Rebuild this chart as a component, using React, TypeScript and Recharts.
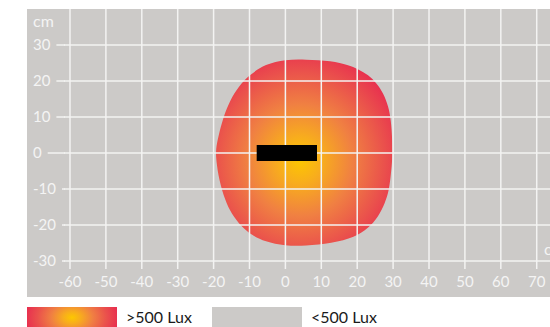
import React from "react";
import { ScatterChart, Scatter, XAxis, YAxis, ReferenceLine, ReferenceArea } from "recharts";

const X_TICKS = [-60, -50, -40, -30, -20, -10, 0, 10, 20, 30, 40, 50, 60, 70];
const Y_TICKS = [-30, -20, -10, 0, 10, 20, 30];
const X_DOMAIN = [-61.67, 73.7];
const Y_DOMAIN = [-32.22, 40];
const UNIT = "cm";

// outline of the >500 lux zone, clockwise from the top (cm)
const ZONE_X = [0, 5.5, 12.9, 17.5, 20.3, 23.1, 25.4, 27.3, 28.7, 29.4, 29.8, 29.8, 29.4, 28.9, 27.7, 25.9, 23.1, 19.4, 12.9, 5.5, -0.1, -5.7, -9.4, -12.2, -15.1, -16.8, -18.5, -19.3, -19.4, -18.7, -17.3, -15.4, -13.1, -10, -5.6];
const ZONE_Y = [26.0, 26.0, 25.6, 24.4, 23.3, 21.7, 19.4, 16.6, 12.9, 9.2, 3.6, -1.9, -5.6, -10.3, -14, -17.7, -20.9, -23.4, -25.1, -25.8, -25.8, -24.6, -22.8, -20.5, -16.8, -13.1, -7.5, -1.9, 1, 4.5, 10, 14.7, 18.4, 21.7, 24.7];

// the luminaire itself
const LAMP_X = [-8, 8.8];
const LAMP_Y = [-2.2, 2.2];

const LEGEND = [">500 Lux", "<500 Lux"];

const BG = "#cccac8";
const GRID = "#f3f3f2";
const LABEL = "#f4f4f4";
const FONT = "Lato, 'Open Sans', sans-serif";

const zone = ZONE_X.map((x, i) => ({ x, y: ZONE_Y[i] }));

let ctx: CanvasRenderingContext2D | null = null;
function textWidth(s: string) {
  if (!ctx) ctx = document.createElement("canvas").getContext("2d");
  if (!ctx) return s.length * 8.7;
  ctx.font = "15px Lato";
  return ctx.measureText(s).width;
}

function XTick({ x, y, payload }: any) {
  return (
    <text x={x} y={y + 18.4} textAnchor="middle" fill={LABEL} fontSize={15} fontFamily={FONT}>
      {payload.value}
    </text>
  );
}

// labels are left aligned, the grid line starts just after each label
function YTick({ x, y, payload }: any) {
  const label = String(payload.value);
  const left = x - 31;
  const start = left + textWidth(label) + 6;
  return (
    <g>
      <text x={left} y={y + 5.4} fill={LABEL} fontSize={15} fontFamily={FONT}>
        {label}
      </text>
      <line x1={start} x2={x + 1} y1={y} y2={y} stroke={GRID} strokeWidth={1.5} />
    </g>
  );
}

export default function App() {
  return (
    <div style={{ position: "absolute", left: 0, top: 0, width: 550, height: 327, overflow: "hidden", fontFamily: FONT }}>
      <div style={{ position: "absolute", left: 27, top: 9, width: 523, height: 288, background: BG }} />
      <div
        style={{
          position: "absolute",
          left: 27,
          top: 306.7,
          width: 90,
          height: 21,
          background: "radial-gradient(ellipse 46px 32px at 50% 50%, #fdc700 0%, #f8ae1c 18%, #f08042 45%, #ea514c 75%, #e8304f 100%)",
        }}
      />
      <div style={{ position: "absolute", left: 212, top: 306.7, width: 90, height: 21, background: BG }} />
      <div style={{ position: "absolute", left: 0, top: 0 }}>
        <ScatterChart width={550} height={327} margin={{ top: 9, right: 0, bottom: 30, left: 0 }}>
          <defs>
            <radialGradient id="lux" cx="0.476" cy="0.54" r="0.6">
              <stop offset="0" stopColor="#fdc700" />
              <stop offset="0.2" stopColor="#f8ae1c" />
              <stop offset="0.5" stopColor="#f08042" />
              <stop offset="0.8" stopColor="#ea514c" />
              <stop offset="1" stopColor="#e8304f" />
            </radialGradient>
          </defs>
          <XAxis
            type="number"
            dataKey="x"
            domain={X_DOMAIN}
            allowDataOverflow
            ticks={X_TICKS}
            interval={0}
            height={28}
            axisLine={false}
            tickLine={false}
            tickSize={0}
            tickMargin={0}
            tick={<XTick />}
          />
          <YAxis
            type="number"
            dataKey="y"
            domain={Y_DOMAIN}
            allowDataOverflow
            ticks={Y_TICKS}
            interval={0}
            width={64}
            axisLine={false}
            tickLine={false}
            tickSize={0}
            tickMargin={0}
            tick={<YTick />}
          />
          <Scatter
            data={zone}
            fill="none"
            shape={() => <g />}
            line={{ fill: "url(#lux)", stroke: "none" }}
            lineType="joint"
            lineJointType="basisClosed"
            isAnimationActive={false}
          />
          {X_TICKS.map((v) => (
            <ReferenceLine key={"x" + v} x={v} stroke={GRID} strokeWidth={1.5} zIndex={700} />
          ))}
          {Y_TICKS.map((v) => (
            <ReferenceLine key={"y" + v} y={v} stroke={GRID} strokeWidth={1.5} zIndex={700} />
          ))}
          <ReferenceArea
            x1={LAMP_X[0]}
            x2={LAMP_X[1]}
            y1={LAMP_Y[0]}
            y2={LAMP_Y[1]}
            fill="#000"
            fillOpacity={1}
            stroke="none"
            zIndex={800}
          />
        </ScatterChart>
      </div>
      <svg width={550} height={327} style={{ position: "absolute", left: 0, top: 0, pointerEvents: "none" }}>
        <text x={33} y={27} fill={LABEL} fontSize={16} fontFamily={FONT}>{UNIT}</text>
        <text x={544} y={255} fill={LABEL} fontSize={16} fontFamily={FONT}>{UNIT}</text>
        <text x={126} y={323} fill="#1a1a1a" fontSize={16} fontFamily={FONT}>{LEGEND[0]}</text>
        <text x={311} y={323} fill="#1a1a1a" fontSize={16} fontFamily={FONT}>{LEGEND[1]}</text>
      </svg>
    </div>
  );
}
